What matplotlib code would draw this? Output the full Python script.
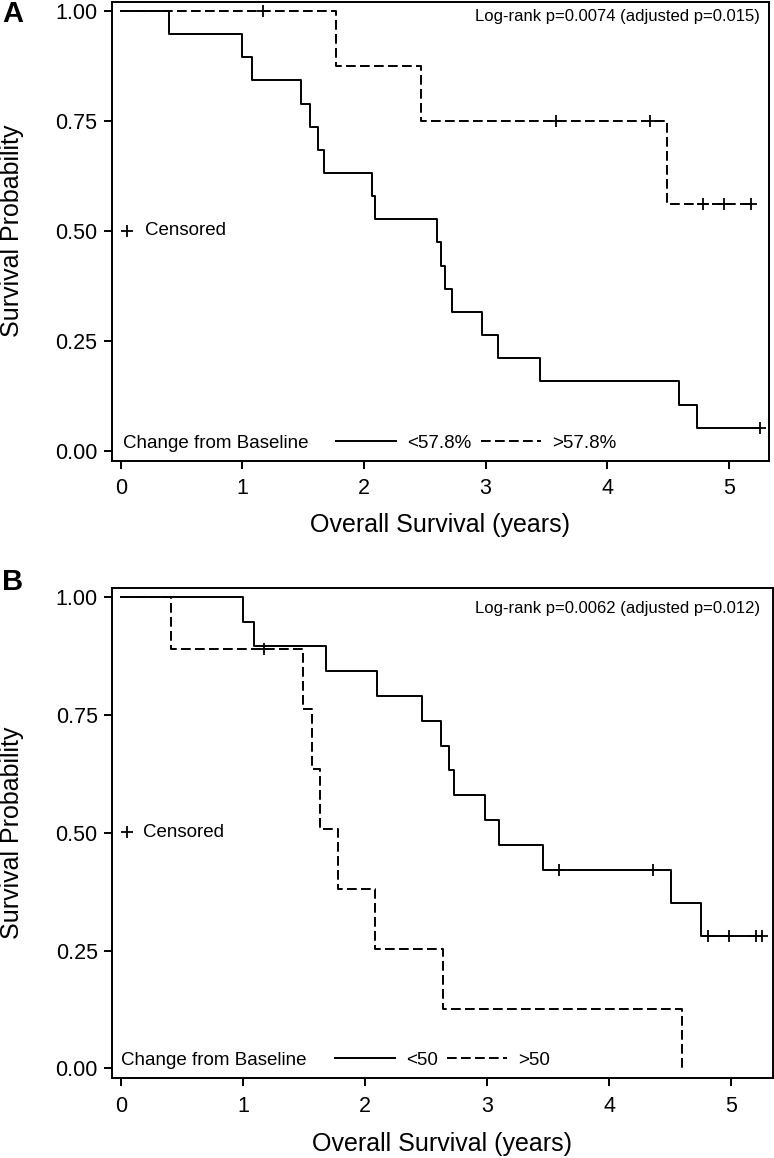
import matplotlib
matplotlib.use("Agg")
import matplotlib.pyplot as plt
from matplotlib.ticker import FormatStrFormatter

plt.rcParams["font.family"] = ["Liberation Sans", "DejaVu Sans"]

# ──────────────────────────────────────────────────────────────
# Data
# ──────────────────────────────────────────────────────────────

# Panel A, change from baseline <57.8%
a_lo_time = [0, 0.40, 1.00, 1.08, 1.48, 1.56, 1.62, 1.67, 2.07, 2.09,
             2.60, 2.63, 2.67, 2.72, 2.97, 3.10, 3.45, 4.59, 4.74]
a_lo_surv = [1.0, 0.947, 0.895, 0.842, 0.789, 0.737, 0.684, 0.632, 0.579, 0.526,
             0.474, 0.421, 0.368, 0.316, 0.263, 0.211, 0.158, 0.105, 0.053]
a_lo_cens_time = [5.26]
a_lo_cens_surv = [0.053]

# Panel A, change from baseline >57.8%
a_hi_time = [0, 1.77, 2.47, 4.49]
a_hi_surv = [1.0, 0.875, 0.750, 0.562]
a_hi_cens_time = [1.17, 3.58, 4.35, 4.79, 4.96, 5.18]
a_hi_cens_surv = [1.0, 0.750, 0.750, 0.562, 0.562, 0.562]

# Panel B, change from baseline <50
b_lo_time = [0, 1.00, 1.09, 1.68, 2.10, 2.47, 2.62, 2.69, 2.73, 2.98,
             3.10, 3.46, 4.51, 4.75]
b_lo_surv = [1.0, 0.947, 0.895, 0.842, 0.789, 0.737, 0.684, 0.632, 0.579, 0.526,
             0.474, 0.421, 0.351, 0.281]
b_lo_cens_time = [3.59, 4.36, 4.81, 4.98, 5.20, 5.25]
b_lo_cens_surv = [0.421, 0.421, 0.281, 0.281, 0.281, 0.281]

# Panel B, change from baseline >50
b_hi_time = [0, 0.41, 1.49, 1.57, 1.63, 1.78, 2.08, 2.64, 4.60]
b_hi_surv = [1.0, 0.889, 0.762, 0.635, 0.508, 0.381, 0.254, 0.127, 0.0]
b_hi_cens_time = [1.17]
b_hi_cens_surv = [0.889]

x_ticks = [0, 1, 2, 3, 4, 5]
y_ticks = [0.0, 0.25, 0.50, 0.75, 1.0]

LW = 1.4
DASH = (0, (5, 2.2))
SMALL = 13.5
LABEL = 18


# ──────────────────────────────────────────────────────────────
# Drawing
# ──────────────────────────────────────────────────────────────

def km_line(ax, time, surv, cens_t, cens_s, ls, label):
    end = max([time[-1]] + list(cens_t))
    xs = list(time) + [end]
    ys = list(surv) + [surv[-1]]
    line, = ax.step(xs, ys, where="post", color="black", lw=LW, ls=ls, label=label)
    ax.plot(cens_t, cens_s, ls="none", marker="+", ms=9, mew=1.3, color="black")
    return line


def panel(ax, groups, logrank, xlim, ylim, pos):
    handles = [km_line(ax, *g) for g in groups]

    ax.set_xlim(*xlim)
    ax.set_ylim(*ylim)
    ax.set_xticks(x_ticks)
    ax.set_yticks(y_ticks)
    ax.yaxis.set_major_formatter(FormatStrFormatter("%.2f"))
    ax.tick_params(direction="out", length=5.5, width=LW, labelsize=15.5,
                   top=False, right=False)
    ax.tick_params(axis="x", pad=7)
    ax.tick_params(axis="y", pad=5)
    for sp in ax.spines.values():
        sp.set_linewidth(LW)

    ax.set_xlabel("Overall Survival (years)", fontsize=LABEL, va="center")
    ax.xaxis.set_label_coords(0.5, pos["xlab"])
    ax.set_ylabel("Survival Probability", fontsize=LABEL, va="center")
    ax.yaxis.set_label_coords(-0.152, 0.5)

    ax.text(pos["lr"][0], pos["lr"][1], logrank, transform=ax.transAxes,
            ha="right", va="center", fontsize=12)

    # censored key
    ax.plot([pos["cens"][0]], [pos["cens"][1]], transform=ax.transAxes,
            marker="+", ms=9, mew=1.3, color="black", clip_on=False)
    ax.text(pos["cens"][2], pos["cens"][1], "Censored", transform=ax.transAxes,
            ha="left", va="center", fontsize=SMALL)

    # bottom key
    ax.text(pos["key"][0], pos["key"][1], "Change from Baseline",
            transform=ax.transAxes, ha="left", va="center", fontsize=SMALL)
    ax.legend(handles=handles, ncol=2, frameon=False, loc="center left",
              bbox_to_anchor=(pos["key"][2], pos["key"][1]), borderpad=0,
              borderaxespad=0, handlelength=3.2, handletextpad=0.6,
              columnspacing=0.5, fontsize=SMALL)


def main():
    fig = plt.figure(figsize=(7.74, 11.58), dpi=100)
    ax_a = fig.add_axes([0.1443, 0.6022, 0.8492, 0.3963])
    ax_b = fig.add_axes([0.1451, 0.0688, 0.8532, 0.4232])

    panel(ax_a,
          [(a_lo_time, a_lo_surv, a_lo_cens_time, a_lo_cens_surv, "-", "<57.8%"),
           (a_hi_time, a_hi_surv, a_hi_cens_time, a_hi_cens_surv, DASH, ">57.8%")],
          "Log-rank p=0.0074 (adjusted p=0.015)",
          (-0.074, 5.33), (-0.022, 1.0205),
          {"xlab": -0.141, "lr": (0.986, 0.967), "cens": (0.0237, 0.501, 0.0507),
           "key": (0.0176, 0.038, 0.341)})

    panel(ax_b,
          [(b_lo_time, b_lo_surv, b_lo_cens_time, b_lo_cens_surv, "-", "<50"),
           (b_hi_time, b_hi_surv, b_hi_cens_time, b_hi_cens_surv, DASH, ">50")],
          "Log-rank p=0.0062 (adjusted p=0.012)",
          (-0.069, 5.34), (-0.021, 1.018),
          {"xlab": -0.134, "lr": (0.981, 0.959), "cens": (0.0218, 0.502, 0.047),
           "key": (0.0127, 0.0373, 0.337)})

    fig.text(0.003, 0.988, "A", fontsize=21, fontweight="bold", va="center", ha="left")
    fig.text(0.003, 0.4977, "B", fontsize=21, fontweight="bold", va="center", ha="left")

    fig.savefig("out.png", dpi=100)


if __name__ == "__main__":
    main()
